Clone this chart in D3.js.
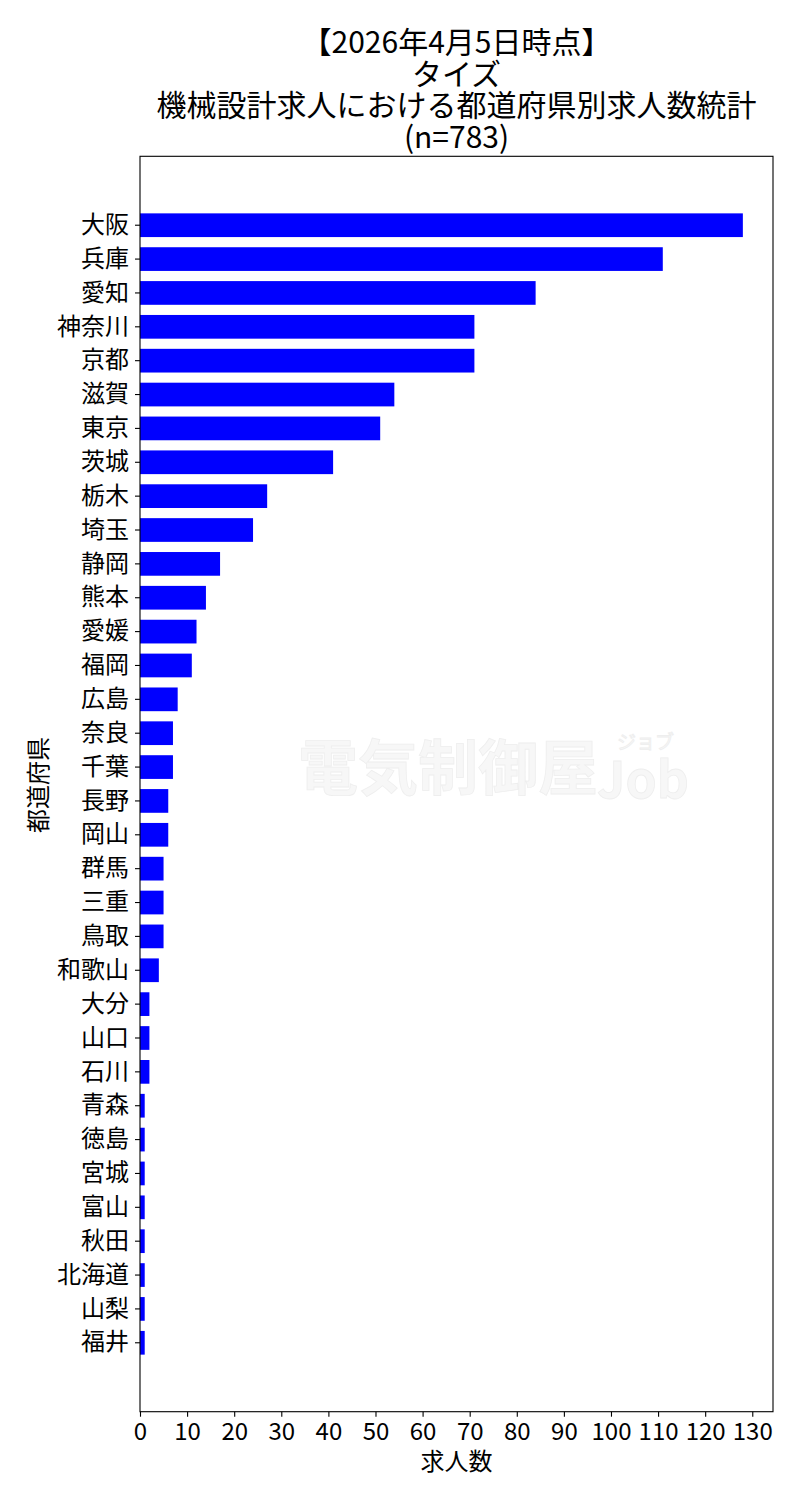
<!DOCTYPE html>
<html>
<head>
<meta charset="utf-8">
<script src="https://cdn.jsdelivr.net/npm/d3@7"></script>
<style>
  body { margin: 0; background: #fff; }
  text { font-family: "Noto Sans CJK JP", "Noto Sans", sans-serif; }
</style>
</head>
<body>
<div id="chart"></div>
<script>
//Data
var prefectures = ["大阪","兵庫","愛知","神奈川","京都","滋賀","東京","茨城","栃木","埼玉",
  "静岡","熊本","愛媛","福岡","広島","奈良","千葉","長野","岡山","群馬",
  "三重","鳥取","和歌山","大分","山口","石川","青森","徳島","宮城","富山",
  "秋田","北海道","山梨","福井"];
var counts = [128,111,84,71,71,54,51,41,27,24,
  17,14,12,11,8,7,7,6,6,5,
  5,5,4,2,2,2,1,1,1,1,
  1,1,1,1];
var xTickValues = [0,10,20,30,40,50,60,70,80,90,100,110,120,130];
var titleLines = ["【2026年4月5日時点】","タイズ","機械設計求人における都道府県別求人数統計","(n=783)"];
var xLabel = "求人数";
var yLabel = "都道府県";

//Width and height
var w = 800;
var h = 1500;
var plot = { left: 140, right: 773, top: 156.3, bottom: 1411.7 };

var svg = d3.select("#chart")
  .append("svg")
  .attr("width", w)
  .attr("height", h);

//Watermark (faint logo text)
var mark = svg.append("g").attr("fill", "#f7f7f7").attr("stroke", "#eeeeee").attr("stroke-width", 0.8);
mark.append("text")
  .attr("x", 298).attr("y", 790)
  .attr("font-size", 60).attr("font-weight", "bold")
  .text("電気制御屋");
mark.append("text")
  .attr("x", 597).attr("y", 798)
  .attr("font-size", 50).attr("font-weight", "bold")
  .attr("font-family", "DejaVu Sans")
  .text("Job");
mark.append("text")
  .attr("x", 617).attr("y", 749)
  .attr("font-size", 19)
  .text("ジョブ");

//Scales
var maxX = d3.max(counts) * 1.05;
var xScale = d3.scaleLinear()
  .domain([0, maxX])
  .range([plot.left, plot.right]);

var yScale = d3.scaleBand()
  .domain(prefectures)
  .range([plot.top, plot.bottom])
  .paddingInner(0.3)
  .paddingOuter(1.685);

//Bars
svg.append("g")
  .selectAll("rect")
  .data(counts)
  .enter()
  .append("rect")
  .attr("x", xScale(0))
  .attr("y", function(d, i) { return yScale(prefectures[i]); })
  .attr("width", function(d) { return xScale(d) - xScale(0); })
  .attr("height", yScale.bandwidth())
  .attr("fill", "#0000ff");

//Axes
var xAxis = d3.axisBottom(xScale)
  .tickValues(xTickValues)
  .tickSize(5)
  .tickPadding(6);

var yAxis = d3.axisLeft(yScale)
  .tickSize(5)
  .tickPadding(6);

var gx = svg.append("g")
  .attr("transform", "translate(0," + plot.bottom + ")")
  .call(xAxis);

var gy = svg.append("g")
  .attr("transform", "translate(" + plot.left + ",0)")
  .call(yAxis);

[gx, gy].forEach(function(g){
  g.select(".domain").remove();
  g.selectAll("line").attr("stroke", "#000").attr("stroke-width", 1.1);
  g.selectAll("text")
    .attr("fill", "#000")
    .attr("font-size", 24)
    .attr("font-family", "'Noto Sans CJK JP', sans-serif");
});

//Frame
svg.append("rect")
  .attr("x", plot.left)
  .attr("y", plot.top)
  .attr("width", plot.right - plot.left)
  .attr("height", plot.bottom - plot.top)
  .attr("fill", "none")
  .attr("stroke", "#000")
  .attr("stroke-width", 1.1);

//Title
var cx = (plot.left + plot.right) / 2;
svg.append("g")
  .selectAll("text")
  .data(titleLines)
  .enter()
  .append("text")
  .attr("x", cx)
  .attr("y", function(d, i) { return 53 + i * 31.5; })
  .attr("text-anchor", "middle")
  .attr("font-size", 30)
  .attr("fill", "#000")
  .text(function(d) { return d; });

//Axis labels
svg.append("text")
  .attr("x", cx)
  .attr("y", 1470)
  .attr("text-anchor", "middle")
  .attr("font-size", 24)
  .text(xLabel);

svg.append("text")
  .attr("transform", "translate(46.5,785) rotate(-90)")
  .attr("text-anchor", "middle")
  .attr("font-size", 24)
  .text(yLabel);
</script>
</body>
</html>
